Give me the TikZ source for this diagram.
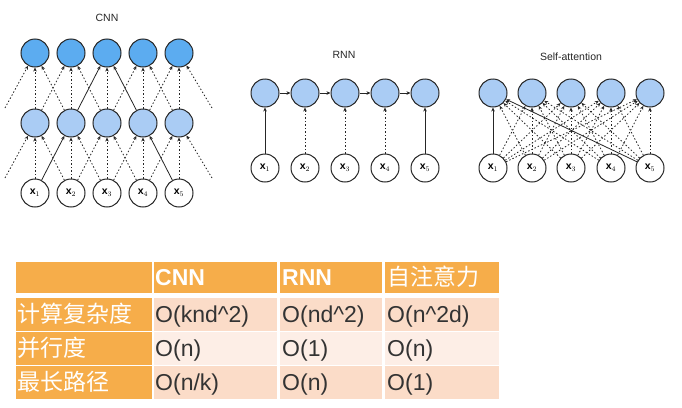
\documentclass[tikz,border=0pt]{standalone}
\usepackage{fontspec}
\setmainfont{Liberation Sans}
\newfontfamily\cjk{Noto Sans CJK SC}
\usetikzlibrary{positioning, arrows.meta}

\definecolor{deepblue}{RGB}{92,172,240}
\definecolor{paleblue}{RGB}{170,204,244}
\definecolor{tableorange}{RGB}{246,173,74}
\definecolor{peach}{RGB}{251,220,200}
\definecolor{lightpeach}{RGB}{253,238,230}
\definecolor{darktext}{RGB}{51,51,51}

\begin{document}
\begin{tikzpicture}[x=1pt, y=-1pt,
>={Stealth[length=4pt, width=3.6pt]},
input_circle/.style={circle, draw=black!85, fill=white, line width=1pt, minimum size=28pt, inner sep=0pt, font=\fontsize{10.5}{10.5}\selectfont},
hidden_circle/.style={input_circle, fill=paleblue},
top_circle/.style={input_circle, fill=deepblue},
title_text/.style={font=\fontsize{10.5}{10.5}\selectfont, text=black!85},
out_arrow/.style={->, line width=0.8pt, black!85},
dotted_arrow/.style={->, line width=0.8pt, black!85, dash pattern=on 1.5pt off 2pt},
cell/.style={rectangle, anchor=north west, inner sep=0pt, draw=white, line width=1pt},
head_cell/.style={cell, fill=tableorange},
data_cell/.style={cell, fill=peach},
data_cell_light/.style={cell, fill=lightpeach},
head_text/.style={anchor=west, inner sep=0pt, text height=16pt, text depth=0pt, text=white, font=\fontsize{23}{23}\selectfont\bfseries},
label_text/.style={anchor=west, inner sep=0pt, text height=16pt, text depth=0pt, text=white, font=\fontsize{23}{23}\selectfont\cjk},
data_text/.style={anchor=west, inner sep=0pt, text height=16pt, text depth=0pt, text=darktext, font=\fontsize{23}{23}\selectfont}
]
\useasboundingbox (0,0) rectangle (682,407);

% CNN
\node[title_text](cnn_title) at (107,18) {CNN};
\foreach \i/\x in {1/35, 2/71, 3/107, 4/143, 5/179} {
  \node[input_circle](cnn_x\i) at (\x,193) {$\mathbf{x}_\i$};
  \node[hidden_circle](cnn_h\i) at (\x,123) {};
  \node[top_circle](cnn_t\i) at (\x,53) {};
}
\coordinate (cnn_low_left) at (5,178);
\coordinate (cnn_low_right) at (212,178);
\coordinate (cnn_up_left) at (5,108);
\coordinate (cnn_up_right) at (212,108);

\foreach \a/\b in {1/1, 2/1, 2/2, 3/2, 2/3, 3/3, 4/3, 3/4, 4/4, 4/5, 5/5}
  \draw[dotted_arrow](cnn_x\a) -- (cnn_h\b);
\foreach \a/\b in {1/1, 2/1, 1/2, 2/2, 3/2, 3/3, 3/4, 4/4, 5/4, 4/5, 5/5}
  \draw[dotted_arrow](cnn_h\a) -- (cnn_t\b);
\draw[dotted_arrow](cnn_low_left) -- (cnn_h1);
\draw[dotted_arrow](cnn_low_right) -- (cnn_h5);
\draw[dotted_arrow](cnn_up_left) -- (cnn_t1);
\draw[dotted_arrow](cnn_up_right) -- (cnn_t5);

\draw[out_arrow](cnn_x1) -- (cnn_h2);
\draw[out_arrow](cnn_x5) -- (cnn_h4);
\draw[out_arrow](cnn_h2) -- (cnn_t3);
\draw[out_arrow](cnn_h4) -- (cnn_t3);

% RNN
\node[title_text](rnn_title) at (344,55) {RNN};
\foreach \i/\x in {1/265, 2/305, 3/345, 4/385, 5/425} {
  \node[input_circle](rnn_x\i) at (\x,168) {$\mathbf{x}_\i$};
  \node[hidden_circle](rnn_h\i) at (\x,93) {};
}
\foreach \a/\b in {1/2, 2/3, 3/4, 4/5}
  \draw[out_arrow](rnn_h\a) -- (rnn_h\b);
\draw[out_arrow](rnn_x1) -- (rnn_h1);
\foreach \i in {2,3,4}
  \draw[dotted_arrow](rnn_x\i) -- (rnn_h\i);
\draw[out_arrow](rnn_x5) -- (rnn_h5);

% Self-attention
\node[title_text](att_title) at (571,57) {Self-attention};
\foreach \i/\x in {1/493, 2/532, 3/571, 4/611, 5/650} {
  \node[input_circle](att_x\i) at (\x,168) {$\mathbf{x}_\i$};
  \node[hidden_circle](att_h\i) at (\x,93) {};
}
\foreach \a/\targets in {1/{2,3,4,5}, 2/{1,2,3,4,5}, 3/{1,2,3,4,5}, 4/{1,2,3,4,5}, 5/{2,3,4,5}}
  \foreach \b in \targets
    \draw[dotted_arrow](att_x\a) -- (att_h\b);
\draw[out_arrow](att_x1) -- (att_h1);
\draw[out_arrow](att_x5) -- (att_h1);

% table
\node[head_cell, minimum width=137pt, minimum height=32pt](head_blank) at (15,261) {};
\node[head_cell, minimum width=124pt, minimum height=32pt](head_cnn) at (153,261) {};
\node[head_cell, minimum width=103pt, minimum height=32pt](head_rnn) at (279,261) {};
\node[head_cell, minimum width=115pt, minimum height=32pt](head_att) at (384,261) {};

\node[head_cell, minimum width=137pt, minimum height=34pt](cost_label) at (15,296.5) {};
\node[data_cell, minimum width=124pt, minimum height=34pt](cost_cnn) at (153,296.5) {};
\node[data_cell, minimum width=103pt, minimum height=34pt](cost_rnn) at (279,296.5) {};
\node[data_cell, minimum width=115pt, minimum height=34pt](cost_att) at (384,296.5) {};

\node[head_cell, minimum width=137pt, minimum height=34pt](par_label) at (15,331) {};
\node[data_cell_light, minimum width=124pt, minimum height=34pt](par_cnn) at (153,331) {};
\node[data_cell_light, minimum width=103pt, minimum height=34pt](par_rnn) at (279,331) {};
\node[data_cell_light, minimum width=115pt, minimum height=34pt](par_att) at (384,331) {};

\node[head_cell, minimum width=137pt, minimum height=34pt](path_label) at (15,365) {};
\node[data_cell, minimum width=124pt, minimum height=34pt](path_cnn) at (153,365) {};
\node[data_cell, minimum width=103pt, minimum height=34pt](path_rnn) at (279,365) {};
\node[data_cell, minimum width=115pt, minimum height=34pt](path_att) at (384,365) {};

\node[head_text, right=2pt of head_cnn.west] {CNN};
\node[head_text, right=3pt of head_rnn.west] {RNN};
\node[label_text, right=3pt of head_att.west] {自注意力};

\node[label_text, right=2pt of cost_label.west] {计算复杂度};
\node[data_text, right=2pt of cost_cnn.west] {O(knd\^{}2)};
\node[data_text, right=3pt of cost_rnn.west] {O(nd\^{}2)};
\node[data_text, right=3pt of cost_att.west] {O(n\^{}2d)};

\node[label_text, right=2pt of par_label.west] {并行度};
\node[data_text, right=2pt of par_cnn.west] {O(n)};
\node[data_text, right=3pt of par_rnn.west] {O(1)};
\node[data_text, right=3pt of par_att.west] {O(n)};

\node[label_text, right=2pt of path_label.west] {最长路径};
\node[data_text, right=2pt of path_cnn.west] {O(n/k)};
\node[data_text, right=3pt of path_rnn.west] {O(n)};
\node[data_text, right=3pt of path_att.west] {O(1)};

\end{tikzpicture}
\end{document}
